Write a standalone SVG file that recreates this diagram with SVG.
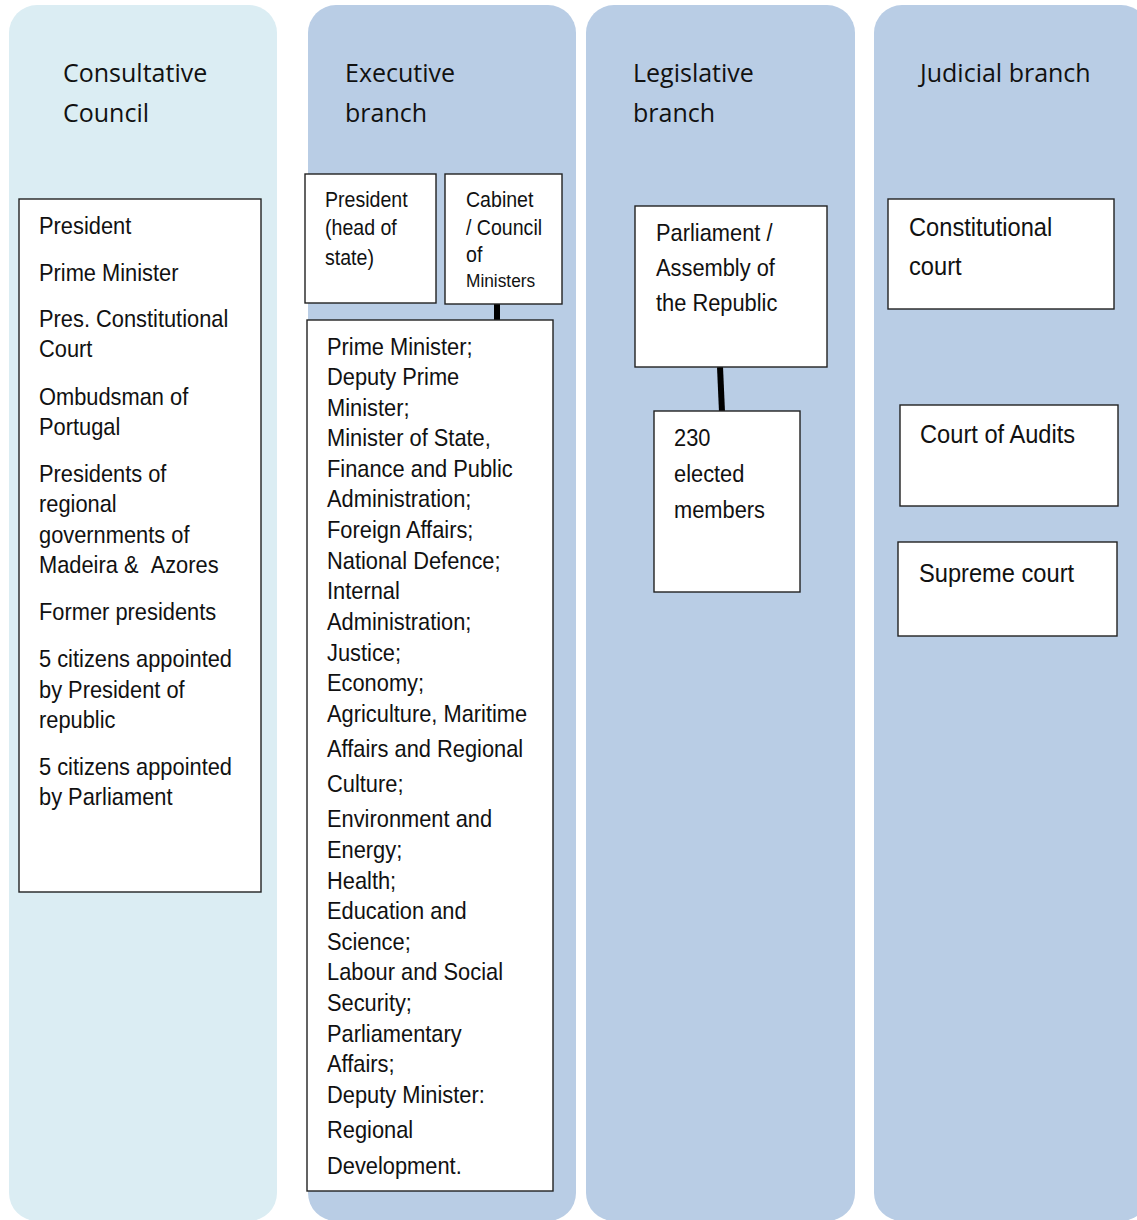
<svg xmlns="http://www.w3.org/2000/svg" width="1137" height="1220" viewBox="0 0 1137 1220">
<style>
.p1{fill:#DBEDF3}
.p2{fill:#B9CDE5}
.h{font-family:"Open Sans","Liberation Sans",sans-serif;font-size:25px;fill:#111}
.box{fill:#fff;stroke:#222;stroke-width:1.4}
.b{font-family:"Liberation Sans",Arial,sans-serif;font-size:24px;fill:#111}
.s{font-size:21.5px}
.xs{font-size:19px}
.l{font-size:26px}
.conn{stroke:#000;stroke-width:6;fill:none}
</style>
<rect width="1137" height="1220" fill="#fff"/>
<g id="panels">
<rect class="p1" x="9" y="5" width="268" height="1216" rx="28"/>
<rect class="p2" x="308" y="5" width="268" height="1216" rx="28"/>
<rect class="p2" x="586" y="5" width="269" height="1216" rx="28"/>
<rect class="p2" x="874" y="5" width="275" height="1216" rx="28"/>
</g>
<g id="headings">
<text class="h" x="63" y="82">Consultative<tspan x="63" y="122">Council</tspan></text>
<text class="h" x="345" y="82">Executive<tspan x="345" y="122">branch</tspan></text>
<text class="h" x="633" y="82">Legislative<tspan x="633" y="122">branch</tspan></text>
<text class="h" x="920" y="82">Judicial branch</text>
</g>
<g id="connectors">
<line class="conn" x1="497" y1="303" x2="497" y2="321"/>
<line class="conn" x1="720" y1="367" x2="722" y2="412"/>
</g>
<g id="consultative-members">
<rect class="box" x="19" y="199" width="242" height="693"/>
<text class="b" transform="translate(39,0) scale(0.91,1)">
<tspan x="0" y="234">President</tspan>
<tspan x="0" y="281">Prime Minister</tspan>
<tspan x="0" y="327">Pres. Constitutional</tspan>
<tspan x="0" y="357">Court</tspan>
<tspan x="0" y="405">Ombudsman of</tspan>
<tspan x="0" y="435">Portugal</tspan>
<tspan x="0" y="482">Presidents of</tspan>
<tspan x="0" y="512">regional</tspan>
<tspan x="0" y="543">governments of</tspan>
<tspan x="0" y="573">Madeira &amp; &#160;Azores</tspan>
<tspan x="0" y="620">Former presidents</tspan>
<tspan x="0" y="667">5 citizens appointed</tspan>
<tspan x="0" y="698">by President of</tspan>
<tspan x="0" y="728">republic</tspan>
<tspan x="0" y="775">5 citizens appointed</tspan>
<tspan x="0" y="805">by Parliament</tspan>
</text>
</g>
<g id="president">
<rect class="box" x="305" y="174" width="131" height="129"/>
<text class="b s" transform="translate(325,0) scale(0.91,1)">
<tspan x="0" y="207">President</tspan>
<tspan x="0" y="235">(head of</tspan>
<tspan x="0" y="265">state)</tspan>
</text>
</g>
<g id="cabinet">
<rect class="box" x="445" y="174" width="117" height="130"/>
<text class="b s" transform="translate(466,0) scale(0.91,1)">
<tspan x="0" y="207">Cabinet</tspan>
<tspan x="0" y="235">/ Council</tspan>
<tspan x="0" y="262">of</tspan>
<tspan class="xs" x="0" y="287">Ministers</tspan>
</text>
</g>
<g id="ministers">
<rect class="box" x="307" y="320" width="246" height="871"/>
<text class="b" transform="translate(327,0) scale(0.91,1)">
<tspan x="0" y="355">Prime Minister;</tspan>
<tspan x="0" y="385">Deputy Prime</tspan>
<tspan x="0" y="416">Minister;</tspan>
<tspan x="0" y="446">Minister of State,</tspan>
<tspan x="0" y="477">Finance and Public</tspan>
<tspan x="0" y="507">Administration;</tspan>
<tspan x="0" y="538">Foreign Affairs;</tspan>
<tspan x="0" y="569">National Defence;</tspan>
<tspan x="0" y="599">Internal</tspan>
<tspan x="0" y="630">Administration;</tspan>
<tspan x="0" y="661">Justice;</tspan>
<tspan x="0" y="691">Economy;</tspan>
<tspan x="0" y="722">Agriculture, Maritime</tspan>
<tspan x="0" y="757">Affairs and Regional</tspan>
<tspan x="0" y="792">Culture;</tspan>
<tspan x="0" y="827">Environment and</tspan>
<tspan x="0" y="858">Energy;</tspan>
<tspan x="0" y="889">Health;</tspan>
<tspan x="0" y="919">Education and</tspan>
<tspan x="0" y="950">Science;</tspan>
<tspan x="0" y="980">Labour and Social</tspan>
<tspan x="0" y="1011">Security;</tspan>
<tspan x="0" y="1042">Parliamentary</tspan>
<tspan x="0" y="1072">Affairs;</tspan>
<tspan x="0" y="1103">Deputy Minister:</tspan>
<tspan x="0" y="1138">Regional</tspan>
<tspan x="0" y="1174">Development.</tspan>
</text>
</g>
<g id="parliament">
<rect class="box" x="635" y="206" width="192" height="161"/>
<text class="b" transform="translate(656,0) scale(0.91,1)">
<tspan x="0" y="241">Parliament /</tspan>
<tspan x="0" y="276">Assembly of</tspan>
<tspan x="0" y="311">the Republic</tspan>
</text>
</g>
<g id="members">
<rect class="box" x="654" y="411" width="146" height="181"/>
<text class="b" transform="translate(674,0) scale(0.91,1)">
<tspan x="0" y="446">230</tspan>
<tspan x="0" y="482">elected</tspan>
<tspan x="0" y="518">members</tspan>
</text>
</g>
<g id="constitutional-court">
<rect class="box" x="888" y="199" width="226" height="110"/>
<text class="b l" transform="translate(909,0) scale(0.91,1)">
<tspan x="0" y="236">Constitutional</tspan>
<tspan x="0" y="275">court</tspan>
</text>
</g>
<g id="court-of-audits">
<rect class="box" x="900" y="405" width="218" height="101"/>
<text class="b l" transform="translate(920,0) scale(0.91,1)"><tspan x="0" y="443">Court of Audits</tspan></text>
</g>
<g id="supreme-court">
<rect class="box" x="898" y="542" width="219" height="94"/>
<text class="b l" transform="translate(919,0) scale(0.91,1)"><tspan x="0" y="582">Supreme court</tspan></text>
</g>
</svg>
